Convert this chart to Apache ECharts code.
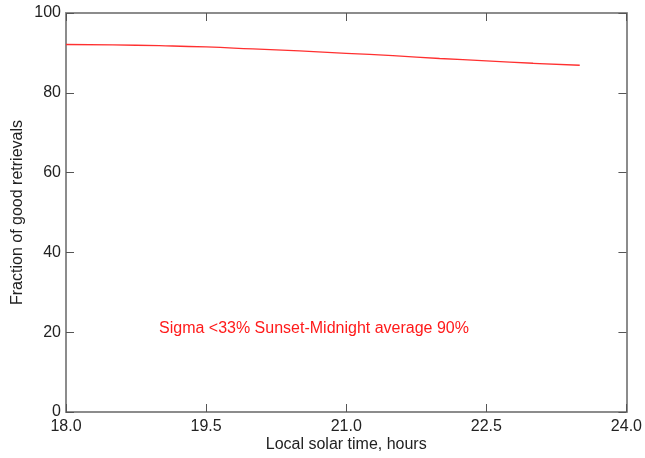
<!DOCTYPE html>
<html>
<head>
<meta charset="utf-8">
<script src="https://cdn.jsdelivr.net/npm/echarts@6/dist/echarts.min.js"></script>
<style>html,body{margin:0;padding:0;background:#fff}#c{width:645px;height:458px}</style>
</head>
<body>
<div id="c"></div>
<script>
const hours = [18.0, 18.5, 19.0, 19.5, 20.0, 20.5, 21.0, 21.5, 22.0, 22.5, 23.0, 23.5];
const fraction = [92.1, 92.0, 91.8, 91.5, 91.0, 90.5, 89.9, 89.3, 88.6, 88.0, 87.4, 86.9];
const xTicks = [18.0, 19.5, 21.0, 22.5, 24.0];
const yTicks = [0, 20, 40, 60, 80, 100];
const annotation = 'Sigma <33% Sunset-Midnight average 90%';

const font = '"Liberation Sans", Arial, Helvetica, sans-serif';
const axisCol = '#8c8c8c';
const chart = echarts.init(document.getElementById('c'), null, {renderer: 'canvas'});
const common = {
  axisLine: {show: true, onZero: false, lineStyle: {color: axisCol, width: 2}},
  axisTick: {show: true, inside: true, length: 8, lineStyle: {color: '#555', width: 1}},
  splitLine: {show: false}
};
chart.setOption({
  animation: false,
  backgroundColor: '#fff',
  grid: {left: 66, right: 17, top: 13, bottom: 45, containLabel: false},
  xAxis: [
    Object.assign({
      type: 'value', min: xTicks[0], max: xTicks[xTicks.length - 1], interval: 1.5,
      position: 'bottom',
      name: 'Local solar time, hours', nameLocation: 'middle', nameGap: 25,
      nameMoveOverlap: false,
      nameTextStyle: {fontFamily: font, fontSize: 16, color: '#222'},
      axisLabel: {fontFamily: font, fontSize: 16, color: '#222', margin: 7,
        formatter: v => v.toFixed(1)}
    }, common),
    Object.assign({
      type: 'value', min: xTicks[0], max: xTicks[xTicks.length - 1], interval: 1.5,
      position: 'top', axisLabel: {show: false}
    }, common)
  ],
  yAxis: [
    Object.assign({
      type: 'value', min: yTicks[0], max: yTicks[yTicks.length - 1], interval: 20,
      position: 'left',
      name: 'Fraction of good retrievals', nameLocation: 'middle', nameGap: 40,
      nameMoveOverlap: false,
      nameTextStyle: {fontFamily: font, fontSize: 16, color: '#222'},
      axisLabel: {fontFamily: font, fontSize: 16, color: '#222', margin: 5}
    }, common),
    Object.assign({
      type: 'value', min: yTicks[0], max: yTicks[yTicks.length - 1], interval: 20,
      position: 'right', axisLabel: {show: false}
    }, common)
  ],
  series: [{
    type: 'line',
    data: hours.map((h, i) => [h, fraction[i]]),
    smooth: true,
    showSymbol: false,
    lineStyle: {color: '#ff3030', width: 1.3},
    xAxisIndex: 0, yAxisIndex: 0
  }],
  graphic: [{
    type: 'text', left: 159, top: 321,
    style: {text: annotation, fill: '#ff1a1a', font: '16px ' + font}
  }]
});
</script>
</body>
</html>
